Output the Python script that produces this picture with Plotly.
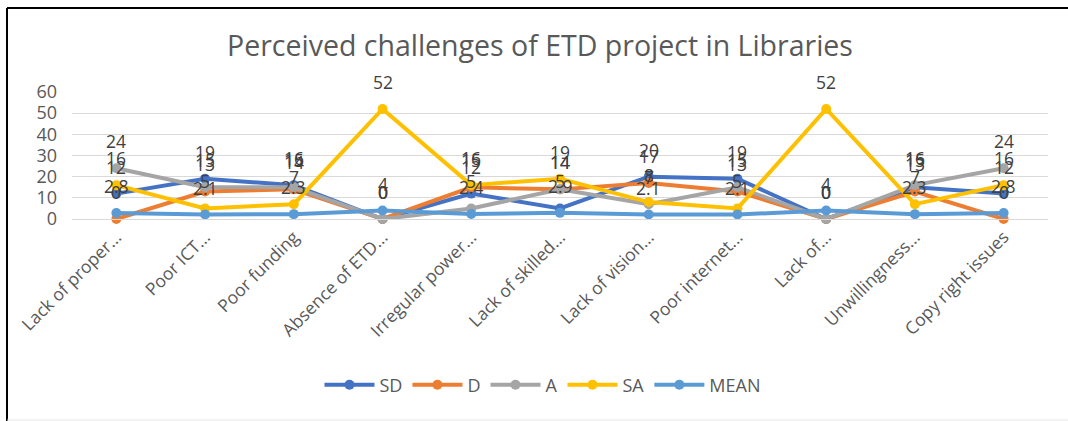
import plotly.graph_objects as go

categories = ["Lack of proper...", "Poor ICT...", "Poor funding", "Absence of ETD...",
              "Irregular power...", "Lack of skilled...", "Lack of vision...",
              "Poor internet...", "Lack of...", "Unwillingness...", "Copy right issues"]
SD = [12, 19, 16, 0, 12, 5, 20, 19, 0, 15, 12]
D = [0, 13, 14, 0, 15, 14, 17, 13, 0, 13, 0]
A = [24, 15, 15, 0, 5, 14, 7, 15, 0, 16, 24]
SA = [16, 5, 7, 52, 16, 19, 8, 5, 52, 7, 16]
MEAN = [2.8, 2.1, 2.3, 4, 2.4, 2.9, 2.1, 2.1, 4, 2.3, 2.8]

series = [("SD", SD, "#4472C4"), ("D", D, "#ED7D31"), ("A", A, "#A5A5A5"),
          ("SA", SA, "#FFC000"), ("MEAN", MEAN, "#5B9BD5")]

FONT = "Open Sans"
fig = go.Figure()
annotations = []
for name, vals, col in series:
    fig.add_trace(go.Scatter(
        x=categories, y=vals, name=name, mode="lines+markers",
        line=dict(color=col, width=4),
        marker=dict(color=col, size=10),
        cliponaxis=False,
    ))
    for c, v in zip(categories, vals):
        annotations.append(dict(
            x=c, y=v, xref="x", yref="y", text=f"{v:g}", showarrow=False,
            yshift=27, yanchor="middle",
            font=dict(family=FONT, size=17.5, color="#404040"),
        ))

W, H = 1068, 421
L, R, T, B = 72, 20, 92, 202
pw, ph = W - L - R, H - T - B

def px_x(px):
    return (px - L) / pw

def px_y(py):
    return (H - B - py) / ph

shapes = [
    dict(type="line", xref="paper", yref="paper", x0=px_x(7), x1=px_x(W), y0=px_y(8), y1=px_y(8),
         line=dict(color="#000000", width=2)),
    dict(type="line", xref="paper", yref="paper", x0=px_x(7), x1=px_x(7), y0=px_y(8), y1=px_y(H),
         line=dict(color="#000000", width=2)),
    dict(type="line", xref="paper", yref="paper", x0=px_x(7), x1=px_x(W), y0=px_y(420), y1=px_y(420),
         line=dict(color="#E6E6E6", width=1)),
]

fig.update_layout(
    width=W, height=H,
    margin=dict(l=L, r=R, t=T, b=B, autoexpand=False),
    paper_bgcolor="white", plot_bgcolor="white",
    title=dict(text="Perceived challenges of ETD project in Libraries",
               x=540 / W, xanchor="center", xref="container",
               y=1 - 46 / H, yanchor="middle", yref="container",
               font=dict(family=FONT, size=28.5, color="#595959")),
    font=dict(family=FONT, color="#595959"),
    xaxis=dict(type="category", categoryorder="array", categoryarray=categories,
               range=[-0.5, len(categories) - 0.5], showgrid=False,
               showline=True, linecolor="#D9D9D9", linewidth=1,
               tickangle=-45, tickfont=dict(family=FONT, size=17.5, color="#595959"),
               ticks="", automargin=False),
    yaxis=dict(range=[0, 60], dtick=10, showgrid=True, gridcolor="#D9D9D9", gridwidth=1,
               zeroline=True, zerolinecolor="#D9D9D9", zerolinewidth=1,
               showline=False, ticks="", ticklabelstandoff=14, automargin=False,
               tickfont=dict(family=FONT, size=18, color="#595959")),
    legend=dict(orientation="h", x=px_x(543), xref="paper", xanchor="center",
                y=px_y(385), yanchor="middle",
                font=dict(family=FONT, size=18, color="#595959"),
                itemwidth=50, bgcolor="rgba(0,0,0,0)"),
    annotations=annotations,
    shapes=shapes,
    showlegend=True,
)

fig.write_html("out.html", config={"displayModeBar": False},
               post_script="document.body.style.margin='0';document.body.style.padding='0';")
